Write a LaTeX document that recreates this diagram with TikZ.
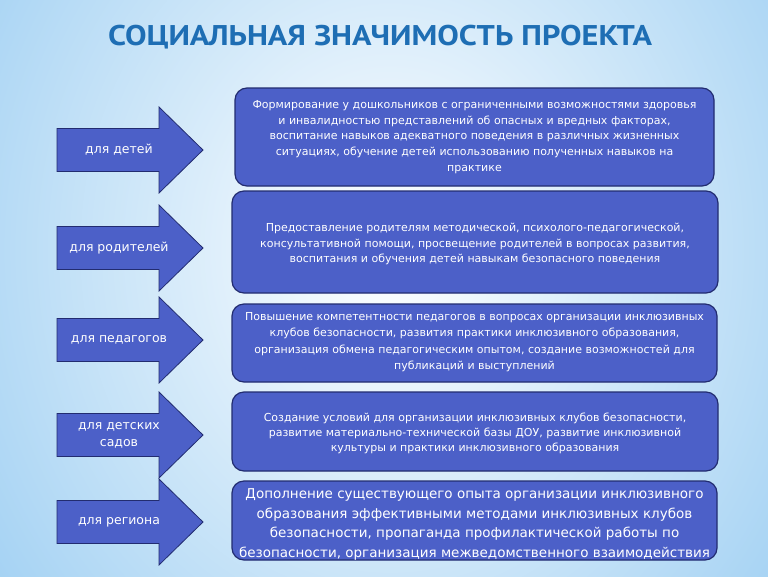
\documentclass[tikz,border=0pt]{standalone}
\usepackage{fontspec}
\setmainfont{DejaVu Sans}
\newfontfamily\titlefont{PT Sans}
\definecolor{bgblue}{RGB}{140,198,240}
\definecolor{boxblue}{RGB}{76,96,200}
\definecolor{boxedge}{RGB}{34,44,112}
\definecolor{titleblue}{RGB}{30,110,180}
\tikzset{
  arrowshape/.style={fill=boxblue, draw=boxedge, line width=0.8pt, line join=miter},
  arrowlabel/.style={text=white, align=center, inner sep=0pt, font=\fontsize{12.5}{17}\selectfont},
  infobox/.style={fill=boxblue, draw=boxedge, line width=1.2pt, rounded corners=12pt, inner sep=0pt},
  infotext/.style={text=white, align=center, inner sep=0pt, font=\fontsize{11}{15.8}\selectfont},
}
\newcommand{\bigarrow}[3]{%
  \draw[arrowshape] (57,{#2-21.5}) -- (159,{#2-21.5}) -- (159,{#2-43}) -- (203,#2) -- (159,{#2+43}) -- (159,{#2+21.5}) -- (57,{#2+21.5}) -- cycle;
  \node[arrowlabel] (#1) at (119,#2) {#3};
}
\begin{document}
\begin{tikzpicture}[x=1pt,y=-1pt]
\useasboundingbox (0,0) rectangle (768,576);
\begin{scope}
\clip (0,0) rectangle (768,576);
\fill[bgblue] (0,0) rectangle (768,576);
\shade[inner color=white, outer color=bgblue] (390,250) ellipse [x radius=620, y radius=720];
\end{scope}

\node[text=titleblue, font=\titlefont\bfseries\fontsize{28.5}{30}\selectfont, inner sep=0pt] (title) at (380,37) {\scalebox{1.13}[1]{СОЦИАЛЬНАЯ ЗНАЧИМОСТЬ ПРОЕКТА}};

\bigarrow{a1}{150}{для детей}
\bigarrow{a2}{248}{для родителей}
\bigarrow{a3}{340}{для педагогов}
\bigarrow{a4}{435}{для детских\\садов}
\bigarrow{a5}{522}{для региона}

\node[infobox, minimum width=479pt, minimum height=98pt] (b1) at (474.5,137) {};
\node[infotext] (t1) at (b1.center) {Формирование у дошкольников с ограниченными возможностями здоровья\\и инвалидностью представлений об опасных и вредных факторах,\\воспитание навыков адекватного поведения в различных жизненных\\ситуациях, обучение детей использованию полученных навыков на\\практике};

\node[infobox, minimum width=486pt, minimum height=102pt] (b2) at (475,242) {};
\node[infotext, yshift=-2pt] (t2) at (b2.center) {Предоставление родителям методической, психолого-педагогической,\\консультативной помощи, просвещение родителей в вопросах развития,\\воспитания и обучения детей навыкам безопасного поведения};

\node[infobox, minimum width=485pt, minimum height=78pt] (b3) at (474.5,343) {};
\node[infotext, font=\fontsize{11}{16.3}\selectfont, yshift=1pt] (t3) at (b3.center) {Повышение компетентности педагогов в вопросах организации инклюзивных\\клубов безопасности, развития практики инклюзивного образования,\\организация обмена педагогическим опытом, создание возможностей для\\публикаций и выступлений};

\node[infobox, minimum width=486pt, minimum height=79pt] (b4) at (475,431.5) {};
\node[infotext, font=\fontsize{11}{15.2}\selectfont, yshift=-2pt] (t4) at (b4.center) {Создание условий для организации инклюзивных клубов безопасности,\\развитие материально-технической базы ДОУ, развитие инклюзивной\\культуры и практики инклюзивного образования};

\node[infobox, minimum width=485pt, minimum height=79pt] (b5) at (474.5,520.5) {};
\node[infotext, font=\fontsize{13.5}{19.5}\selectfont, yshift=-4pt] (t5) at (b5.center) {Дополнение существующего опыта организации инклюзивного\\образования эффективными методами инклюзивных клубов\\безопасности, пропаганда профилактической работы по\\безопасности, организация межведомственного взаимодействия};
\end{tikzpicture}
\end{document}
